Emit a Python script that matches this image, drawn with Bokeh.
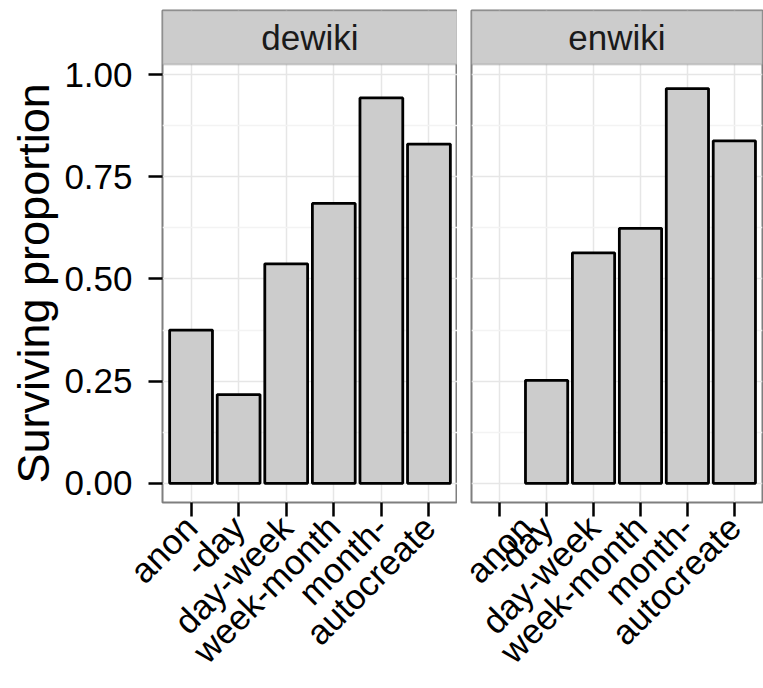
import math
from bokeh.plotting import figure
from bokeh.models import (FactorRange, Range1d, FixedTicker, PrintfTickFormatter,
                          BoxAnnotation, Label, Title, ColumnDataSource)
from bokeh.layouts import row
from bokeh.embed import file_html
from bokeh.resources import INLINE

# ---- data ----
categories = ["anon", "-day", "day-week", "week-month", "month-", "autocreate"]
facets = ["dewiki", "enwiki"]
dewiki_values = [0.375, 0.217, 0.537, 0.685, 0.943, 0.830]
enwiki_values = [None, 0.252, 0.564, 0.624, 0.966, 0.838]
y_ticks = [0.0, 0.25, 0.5, 0.75, 1.0]
y_minor_ticks = [0.125, 0.375, 0.625, 0.875]
y_title = "Surviving proportion"

FONT = "Liberation Sans"
PANEL_LO, PANEL_HI = -0.047, 1.025   # data extent of the plotting panel
STRIP_HI = 1.157                       # top of the facet strip
BORDER = "#7f7f7f"


def make_panel(facet, values, first):
    xs = [c for c, v in zip(categories, values) if v is not None]
    tops = [v for v in values if v is not None]
    src = ColumnDataSource(data=dict(x=xs, top=tops))

    kw = dict(
        x_range=FactorRange(factors=categories, range_padding=1 / 30),
        y_range=Range1d(PANEL_LO, STRIP_HI),
        height=688,
        output_backend="svg",
        toolbar_location=None,
        min_border_top=10,
        min_border_bottom=186,
    )
    if first:
        kw.update(width=457, min_border_left=162, min_border_right=0)
    else:
        kw.update(width=306, min_border_left=14, min_border_right=1, y_axis_location=None)
    p = figure(**kw)

    p.background_fill_color = "white"
    p.border_fill_color = "white"
    p.outline_line_color = BORDER
    p.outline_line_width = 2

    p.ygrid.ticker = FixedTicker(ticks=y_ticks, minor_ticks=y_minor_ticks)
    p.ygrid.grid_line_color = "#e6e6e6"
    p.ygrid.grid_line_width = 1.5
    p.ygrid.minor_grid_line_color = "#f3f3f3"
    p.ygrid.minor_grid_line_width = 1.5
    p.xgrid.grid_line_color = "#e6e6e6"
    p.xgrid.grid_line_width = 1.5

    p.vbar(x="x", top="top", bottom=0, width=0.9, source=src,
           fill_color="#cccccc", line_color="black", line_width=2.8)

    ax = p.xaxis[0]
    ax.axis_line_color = None
    ax.major_tick_line_color = "black"
    ax.major_tick_line_width = 2.5
    ax.major_tick_out = 14
    ax.major_tick_in = 0
    ax.minor_tick_line_color = None
    ax.major_label_orientation = math.pi / 4
    ax.major_label_text_font = FONT
    ax.major_label_text_font_size = "35px"
    ax.major_label_text_color = "black"
    ax.major_label_standoff = 5

    if first:
        ay = p.yaxis[0]
        ay.ticker = FixedTicker(ticks=y_ticks, minor_ticks=y_minor_ticks)
        ay.formatter = PrintfTickFormatter(format="%.2f")
        ay.axis_line_color = None
        ay.major_tick_line_color = "black"
        ay.major_tick_line_width = 2.5
        ay.major_tick_out = 14
        ay.major_tick_in = 0
        ay.minor_tick_line_color = None
        ay.major_label_text_font = FONT
        ay.major_label_text_font_size = "35px"
        ay.major_label_text_color = "black"
        ay.major_label_standoff = 16
        # y title, starting near the bottom of the plotting panel
        p.add_layout(Title(text=y_title, align="left", offset=19,
                           text_font=FONT, text_font_size="45px",
                           text_font_style="normal", text_color="black",
                           standoff=6), "left")

    # facet strip
    p.add_layout(BoxAnnotation(bottom=PANEL_HI, fill_color="#cccccc", fill_alpha=1.0,
                               line_color=BORDER, line_width=2))
    p.add_layout(Label(x=len(categories) / 2, y=(PANEL_HI + STRIP_HI) / 2, text=facet,
                       text_align="center", text_baseline="middle",
                       text_font=FONT, text_font_size="35px", text_color="#1a1a1a"))
    return p


p1 = make_panel(facets[0], dewiki_values, True)
p2 = make_panel(facets[1], enwiki_values, False)
layout = row(p1, p2)

open("out.html", "w").write(file_html(layout, INLINE))
